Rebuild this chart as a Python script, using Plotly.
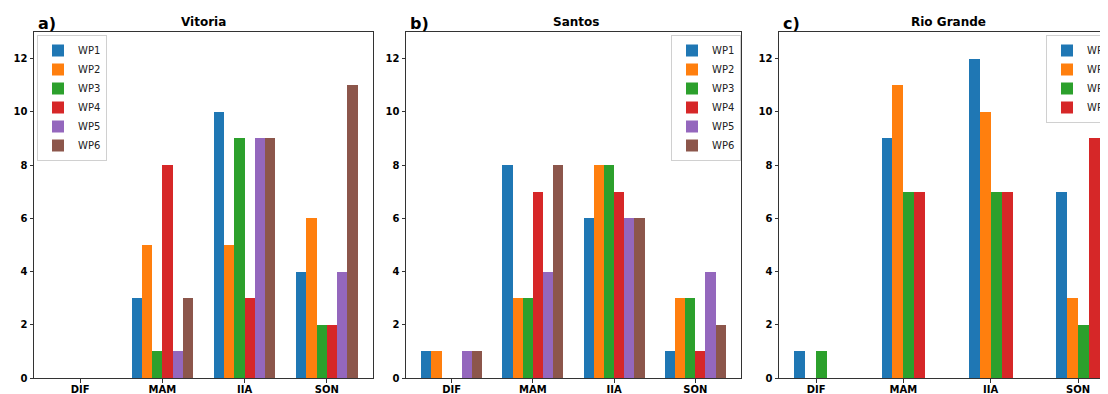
import plotly.graph_objects as go

# ---------------- data ----------------
seasons = ["DIF", "MAM", "IIA", "SON"]
wp_names = ["WP1", "WP2", "WP3", "WP4", "WP5", "WP6"]
wp_colors = ["#1f77b4", "#ff7f0e", "#2ca02c", "#d62728", "#9467bd", "#8c564b"]

vitoria_wp1 = [0, 3, 10, 4]
vitoria_wp2 = [0, 5, 5, 6]
vitoria_wp3 = [0, 1, 9, 2]
vitoria_wp4 = [0, 8, 3, 2]
vitoria_wp5 = [0, 1, 9, 4]
vitoria_wp6 = [0, 3, 9, 11]

santos_wp1 = [1, 8, 6, 1]
santos_wp2 = [1, 3, 8, 3]
santos_wp3 = [0, 3, 8, 3]
santos_wp4 = [0, 7, 7, 1]
santos_wp5 = [1, 4, 6, 4]
santos_wp6 = [1, 8, 6, 2]

riogrande_wp1 = [1, 9, 12, 7]
riogrande_wp2 = [0, 11, 10, 3]
riogrande_wp3 = [1, 7, 7, 2]
riogrande_wp4 = [0, 7, 7, 9]

panels = [
    ("a)", "Vitoria", [vitoria_wp1, vitoria_wp2, vitoria_wp3, vitoria_wp4, vitoria_wp5, vitoria_wp6]),
    ("b)", "Santos", [santos_wp1, santos_wp2, santos_wp3, santos_wp4, santos_wp5, santos_wp6]),
    ("c)", "Rio Grande", [riogrande_wp1, riogrande_wp2, riogrande_wp3, riogrande_wp4]),
]

# ---------------- layout geometry ----------------
# page body has an 8px margin; the figure is placed at (8, 8)
OFF = 8
W, H = 1108 - OFF, 394 - OFF


def px_x(v):
    return (v - OFF) / W


def px_y(v):
    return 1 - (v - OFF) / H


bar_w = 0.125
plot_top, plot_bot = 32, 378
x_domains_px = [(34, 373), (406, 741), (779, 1108)]
c_px_per_unit = 87.3

FONT = "DejaVu Sans"
AX_COLOR = "#333333"

fig = go.Figure()
xpos = list(range(len(seasons)))

legend_specs = [
    dict(x=px_x(37), xanchor="left"),
    dict(x=px_x(741), xanchor="right"),
    dict(x=px_x(1046), xanchor="left"),
]

annotations = []
for p, (letter, title, series) in enumerate(panels):
    n = len(series)
    ax_suffix = "" if p == 0 else str(p + 1)
    leg_id = "legend" if p == 0 else f"legend{p + 1}"
    for i, vals in enumerate(series):
        fig.add_trace(go.Bar(
            x=xpos, y=vals, name=wp_names[i],
            marker=dict(color=wp_colors[i], line=dict(width=0)),
            width=bar_w, offset=-n * bar_w / 2 + i * bar_w,
            xaxis="x" + ax_suffix, yaxis="y" + ax_suffix,
            legend=leg_id, showlegend=True,
        ))

    x0px, x1px = x_domains_px[p]
    half = n * bar_w / 2
    lo = -half - 0.05 * (3 + 2 * half)
    hi = 3 + half + 0.05 * (3 + 2 * half)
    if p == 2:
        hi = lo + (x1px - x0px) / c_px_per_unit

    fig.layout["xaxis" + ax_suffix] = dict(
        domain=[px_x(x0px), min(1.0, px_x(x1px))], anchor="y" + ax_suffix,
        range=[lo, hi], tickmode="array", tickvals=xpos, ticktext=seasons,
        showline=True, linecolor=AX_COLOR, linewidth=1, mirror=True,
        ticks="outside", ticklen=3.5, tickwidth=1, tickcolor=AX_COLOR,
        ticklabelstandoff=-2,
        showgrid=False, zeroline=False,
        tickfont=dict(family=FONT, size=10, color="black", weight="bold"),
    )
    fig.layout["yaxis" + ax_suffix] = dict(
        domain=[px_y(plot_bot), px_y(plot_top)], anchor="x" + ax_suffix,
        range=[0, 13], tickmode="linear", tick0=0, dtick=2,
        showline=True, linecolor=AX_COLOR, linewidth=1, mirror=(p != 2),
        ticks="outside", ticklen=3.5, tickwidth=1, tickcolor=AX_COLOR,
        showgrid=False, zeroline=False,
        tickfont=dict(family=FONT, size=10, color="black", weight="bold"),
    )

    fig.layout[leg_id] = dict(
        y=px_y(35), yanchor="top", **legend_specs[p],
        bgcolor="rgba(255,255,255,0.85)", bordercolor="#d0d0d0", borderwidth=1,
        font=dict(family=FONT, size=10, color="#222222"),
        tracegroupgap=0,
    )

    annotations.append(dict(
        text=f"<b>{title}</b>", x=px_x(x0px + 169.5), y=px_y(21.5),
        xref="paper", yref="paper", xanchor="center", yanchor="middle",
        showarrow=False, font=dict(family=FONT, size=12, color="black"),
    ))
    annotations.append(dict(
        text=f"<b>{letter}</b>", x=px_x(x0px + 2), y=px_y(23),
        xref="paper", yref="paper", xanchor="left", yanchor="middle",
        showarrow=False, font=dict(family=FONT, size=16, color="black"),
    ))

fig.update_layout(
    width=W, height=H,
    margin=dict(l=0, r=0, t=0, b=0, autoexpand=False),
    paper_bgcolor="white", plot_bgcolor="white",
    annotations=annotations,
    bargap=0,
)

fig.write_html("out.html")
